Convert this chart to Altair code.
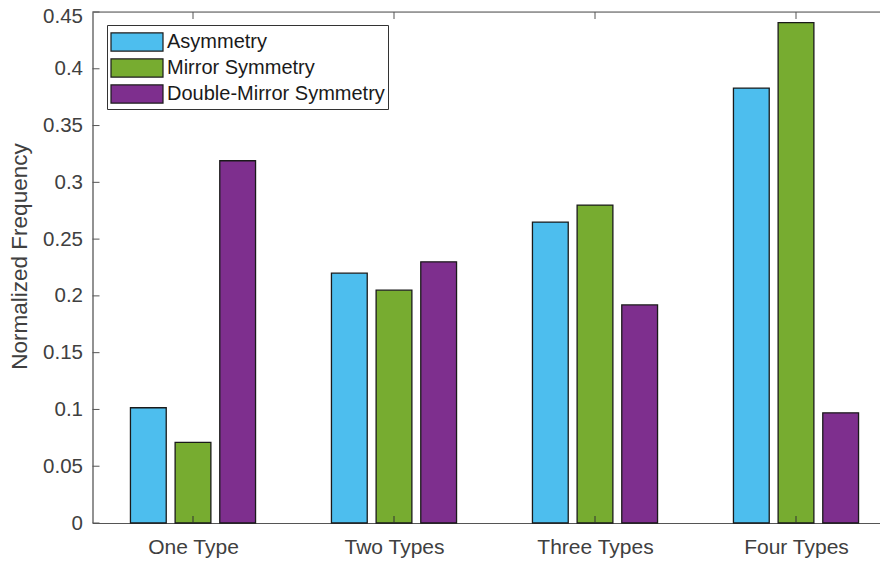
import json
import altair as alt
import pandas as pd

categories = ["One Type", "Two Types", "Three Types", "Four Types"]
series = ["Asymmetry", "Mirror Symmetry", "Double-Mirror Symmetry"]
asymmetry = [0.1015, 0.220, 0.265, 0.383]
mirror = [0.071, 0.205, 0.280, 0.4406]
double_mirror = [0.319, 0.230, 0.192, 0.097]
colors = ["#4DBEEE", "#77AC30", "#7E2F8E"]
y_ticks = [0, 0.05, 0.1, 0.15, 0.2, 0.25, 0.3, 0.35, 0.4, 0.45]
x_ticks = [1, 2, 3, 4]

group_offset = 0.2222
bar_width = 0.178

rows = []
for i, cat in enumerate(categories):
    for j, (s, vals) in enumerate(zip(series, [asymmetry, mirror, double_mirror])):
        c = (i + 1) + (j - 1) * group_offset
        rows.append({"category": cat, "series": s, "value": vals[i],
                     "x0": c - bar_width / 2, "x1": c + bar_width / 2})
df = pd.DataFrame(rows)

W, H = 787.5, 511
AX = "#555555"
TXT = "#404040"
FONT = "Liberation Sans"

xscale = alt.Scale(domain=[0.5, 0.5 + W / 201.0], nice=False, zero=False)
yscale = alt.Scale(domain=[0, 0.45], nice=False)

label_expr = json.dumps(categories) + "[datum.value - 1]"

bars = alt.Chart(df).mark_rect(stroke="#1a1a1a", strokeWidth=1.3).encode(
    x=alt.X("x0:Q", scale=xscale, title=None,
            axis=alt.Axis(values=x_ticks, labelExpr=label_expr, tickSize=0,
                          grid=False, domainColor=AX, domainWidth=1.2,
                          labelFontSize=21, labelColor=TXT, labelFont=FONT,
                          labelPadding=13)),
    x2="x1:Q",
    y=alt.Y("value:Q", scale=yscale, title="Normalized Frequency",
            axis=alt.Axis(values=y_ticks, format=".2~f", tickSize=0, grid=False,
                          domainColor=AX, domainWidth=1.2,
                          labelFontSize=20.5, labelColor=TXT, labelFont=FONT,
                          labelOffset={"condition": {"test": "datum.value > 0.449",
                                                     "value": 4}, "value": 0},
                          labelPadding=10, titleFontSize=22.5, titleColor=TXT,
                          titleFont=FONT, titleFontWeight="normal",
                          titleAngle=270, titleAlign="center",
                          titleBaseline="alphabetic", titleX=-66, titleY=244)),
    y2=alt.datum(0),
    color=alt.Color("series:N", scale=alt.Scale(domain=series, range=colors),
                    legend=alt.Legend(
                        title=None, orient="none", legendX=14.5, legendY=13,
                        symbolType="M-1,-0.7L3,-0.7L3,0.7L-1,0.7Z",
                        symbolSize=676, symbolStrokeColor="#1a1a1a",
                        symbolStrokeWidth=1.2, symbolOpacity=1,
                        labelFontSize=20, labelColor="#1a1a1a",
                        labelFont=FONT, labelOffset=29, rowPadding=0,
                        padding=3, strokeColor="#333333", fillColor="white",
                        labelLimit=400)),
)

ytick_df = pd.DataFrame({"v": y_ticks})
xtick_df = pd.DataFrame({"v": x_ticks})

ytick_left = alt.Chart(ytick_df).mark_rule(color=AX, strokeWidth=1).encode(
    y=alt.Y("v:Q", scale=yscale), x=alt.value(0), x2=alt.value(7))
xtick_bottom = alt.Chart(xtick_df).mark_rule(color="#333333", strokeWidth=1).encode(
    x=alt.X("v:Q", scale=xscale), y=alt.value(H), y2=alt.value(H - 7))
xtick_top = alt.Chart(xtick_df).mark_rule(color=AX, strokeWidth=1).encode(
    x=alt.X("v:Q", scale=xscale), y=alt.value(0), y2=alt.value(7))
top_line = alt.Chart(pd.DataFrame({"v": [0]})).mark_rule(color=AX, strokeWidth=1.2).encode(
    y=alt.value(0))

chart = alt.layer(bars, xtick_bottom, ytick_left, xtick_top, top_line).properties(
    width=W, height=H,
    autosize=alt.AutoSizeParams(type="none"),
    padding={"left": 84.5, "top": 4, "right": 0, "bottom": 36},
).configure_view(stroke=None).configure(background="white")

chart.save("out.html", embed_options={"renderer": "svg", "actions": False})
